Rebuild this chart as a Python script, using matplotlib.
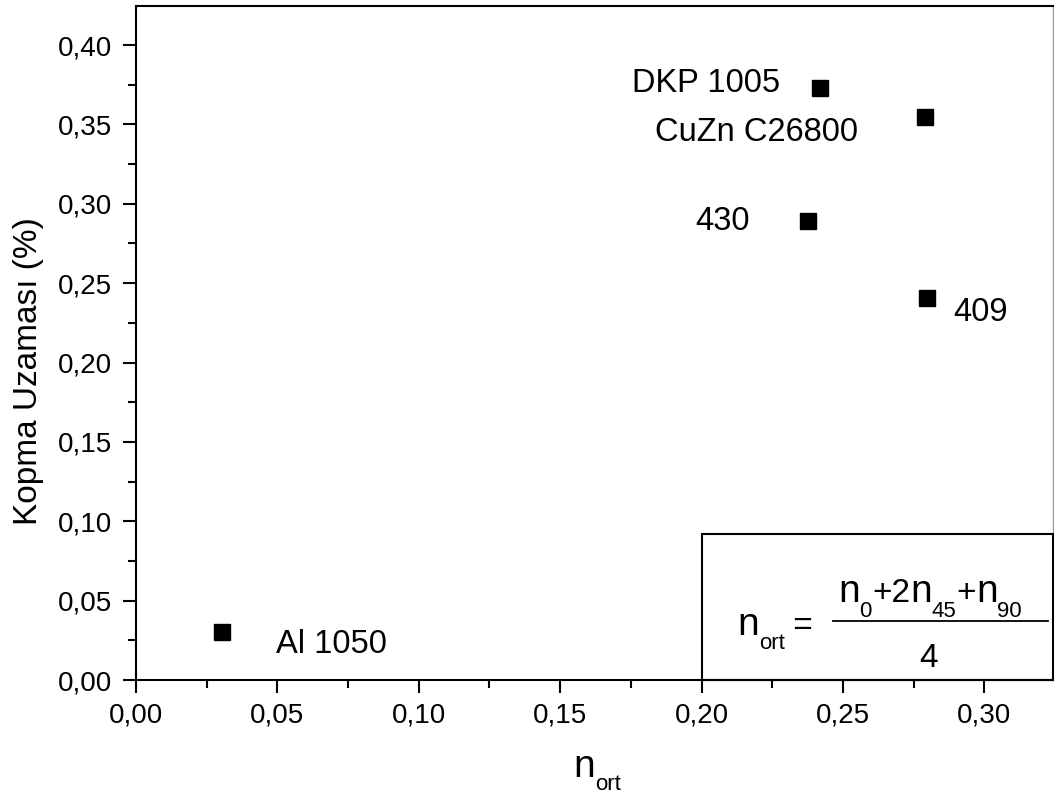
import matplotlib
matplotlib.use("Agg")
import matplotlib.pyplot as plt
from matplotlib.patches import Rectangle
from matplotlib.ticker import FixedLocator, FuncFormatter

# data
materials = ["Al 1050", "430", "DKP 1005", "CuZn C26800", "409"]
n_ort = [0.0305, 0.2375, 0.2419, 0.2792, 0.2798]
elongation = [0.0300, 0.2891, 0.3727, 0.3545, 0.2404]

x_ticks = [0.00, 0.05, 0.10, 0.15, 0.20, 0.25, 0.30]
x_minor = [0.025, 0.075, 0.125, 0.175, 0.225, 0.275, 0.325]
y_ticks = [0.00, 0.05, 0.10, 0.15, 0.20, 0.25, 0.30, 0.35, 0.40]
y_minor = [0.025, 0.075, 0.125, 0.175, 0.225, 0.275, 0.325, 0.375, 0.425]
x_range = (0.0, 0.3243)
y_range = (0.0, 0.4246)
box_x0 = 0.20
box_top = 0.092

# label offsets from each marker, in pixels: (dx, dy, ha)
label_offsets = {
    "Al 1050": (54, -21, "left"),
    "430": (-58, -9, "right"),
    "DKP 1005": (-40, -4, "right"),
    "CuZn C26800": (-67, -24, "right"),
    "409": (26, -23, "left"),
}

plt.rcParams["font.family"] = ["Liberation Sans", "DejaVu Sans"]
W, H, DPI = 1054, 796, 100

fig = plt.figure(figsize=(W / DPI, H / DPI), dpi=DPI)
ax = fig.add_axes([136 / W, 1 - 680 / H, (1053 - 136) / W, (680 - 6) / H])

ax.plot(n_ort, elongation, "s", color="black", ms=11, ls="none")

for name, x, y in zip(materials, n_ort, elongation):
    dx, dy, ha = label_offsets[name]
    ax.annotate(name, (x, y), xytext=(dx, dy), textcoords="offset pixels",
                ha=ha, va="baseline", fontsize=23.5)

ax.set_xlim(*x_range)
ax.set_ylim(*y_range)
ax.xaxis.set_major_locator(FixedLocator(x_ticks))
ax.xaxis.set_minor_locator(FixedLocator(x_minor))
ax.yaxis.set_major_locator(FixedLocator(y_ticks))
ax.yaxis.set_minor_locator(FixedLocator(y_minor))
comma = FuncFormatter(lambda v, p: f"{v:.2f}".replace(".", ","))
ax.xaxis.set_major_formatter(comma)
ax.yaxis.set_major_formatter(comma)

ax.tick_params(which="both", direction="out", width=1.5, top=False, right=False)
ax.tick_params(which="major", length=9.5, labelsize=20)
ax.tick_params(axis="x", which="major", pad=6.5)
ax.tick_params(axis="y", which="major", pad=7.5)
ax.tick_params(which="minor", length=5.8)

for side in ["left", "bottom", "top"]:
    ax.spines[side].set_linewidth(1.5)
ax.spines["right"].set_color("#999999")
ax.spines["right"].set_linewidth(1.0)

ax.set_ylabel("Kopma Uzaması (%)", fontsize=24)
ax.yaxis.set_label_coords(-0.1003, 0.458)

# formula box in the lower right
ax.add_patch(Rectangle((box_x0, 0), x_range[1] - box_x0, box_top, fill=False,
                       lw=1.5, ec="black", clip_on=False, zorder=3))

renderer = fig.canvas.get_renderer()


def text_run(x0, base, pieces):
    """Write pieces left to right; x0/base in image pixels from top-left."""
    x = x0
    for s, size, drop in pieces:
        t = fig.text(x / W, 1 - (base + drop) / H, s, fontsize=size,
                     ha="left", va="baseline")
        x += t.get_window_extent(renderer).width
    return x


text_run(737, 635, [("n", 28, 0), ("ort", 16, 14), (" =", 24, 0)])
text_run(838, 602, [("n", 28, 0), ("0", 16, 15), ("+2", 24, 0), ("n", 28, 0),
                    ("45", 16, 15), ("+", 24, 0), ("n", 28, 0), ("90", 16, 15)])
fig.add_artist(plt.Line2D([833 / W, 1048 / W], [1 - 620.7 / H, 1 - 620.7 / H],
                          color="black", lw=1.3))
fig.text(929 / W, 1 - 667 / H, "4", fontsize=24, ha="center", va="baseline")

# x axis label n_ort
text_run(573, 777, [("n", 28, 0), ("ort", 16, 13)])

fig.savefig("out.png", dpi=DPI)
